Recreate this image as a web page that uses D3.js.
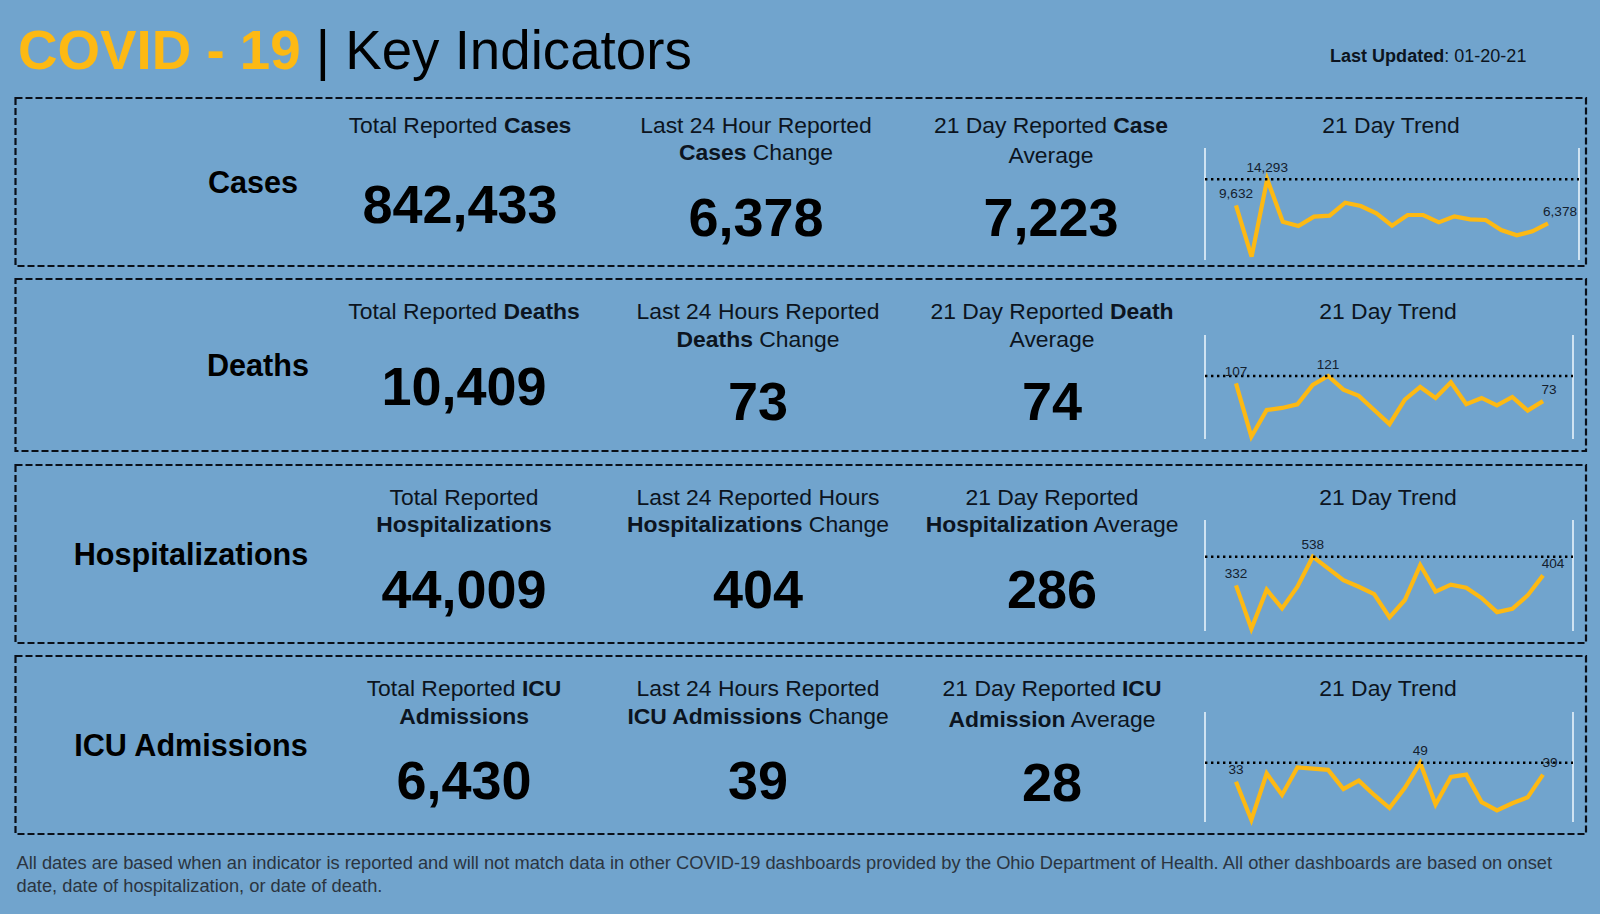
<!DOCTYPE html>
<html>
<head>
	<title>COVID - 19 | Key Indicators</title>
	<script type="text/javascript" src="https://cdnjs.cloudflare.com/ajax/libs/d3/7.8.5/d3.min.js"></script>
	<style>
		html, body { margin: 0; padding: 0; background: #71a4cd; }
		svg { display: block; }
		text { font-family: "Liberation Sans", Arial, sans-serif; }
	</style>
</head>
<body>
<div id='chart'></div>

<script type="text/javascript">

// data

var indicators = ['Cases', 'Deaths', 'Hospitalizations', 'ICU Admissions'];

var totals = [842433, 10409, 44009, 6430];
var changes = [6378, 73, 404, 39];
var averages = [7223, 74, 286, 28];

var cases_trend = [9632, 430, 14293, 6703, 5926, 7600, 7779, 10110, 9512, 8197, 5986, 7899, 7899, 6584, 7660, 7122, 7002, 5210, 4253, 4970, 6378];
var deaths_trend = [107, 5, 56, 60, 67, 104, 121, 95, 83, 56, 29, 76, 100, 79, 109, 67, 79, 65, 81, 55, 73];
var hosp_trend = [332, 21, 301, 167, 322, 538, 454, 370, 322, 270, 102, 227, 478, 287, 337, 315, 241, 140, 164, 260, 404];
var icu_trend = [33, 1, 40, 22, 45, 44, 43, 27, 34, 22, 11, 28, 49, 14, 37, 39, 16, 9, 15, 20, 39];

var trends = [cases_trend, deaths_trend, hosp_trend, icu_trend];

// caption lines, pairs of [text, bold]
var total_captions = [
	[[['Total Reported ', 0], ['Cases', 1]]],
	[[['Total Reported ', 0], ['Deaths', 1]]],
	[[['Total Reported', 0]], [['Hospitalizations', 1]]],
	[[['Total Reported ', 0], ['ICU', 1]], [['Admissions', 1]]]
];
var change_captions = [
	[[['Last 24 Hour Reported', 0]], [['Cases', 1], [' Change', 0]]],
	[[['Last 24 Hours Reported', 0]], [['Deaths', 1], [' Change', 0]]],
	[[['Last 24 Reported Hours', 0]], [['Hospitalizations', 1], [' Change', 0]]],
	[[['Last 24 Hours Reported', 0]], [['ICU Admissions', 1], [' Change', 0]]]
];
var average_captions = [
	[[['21 Day Reported ', 0], ['Case', 1]], [['Average', 0]]],
	[[['21 Day Reported ', 0], ['Death', 1]], [['Average', 0]]],
	[[['21 Day Reported', 0]], [['Hospitalization', 1], [' Average', 0]]],
	[[['21 Day Reported ', 0], ['ICU', 1]], [['Admission', 1], [' Average', 0]]]
];

var footnote = [
	'All dates are based when an indicator is reported and will not match data in other COVID-19 dashboards provided by the Ohio Department of Health. All other dashboards are based on onset',
	'date, date of hospitalization, or date of death.'
];

// layout, one entry per row

var rows = [
	{top: 98, bottom: 266, name_x: 253, name_y: 193, cap_y: 133, cap2: 160, avg2: 162.5, cols: [460, 756, 1051, 1391], total_y: 223, change_y: 235.5, avg_y: 236,
		frame_top: 148, frame_bottom: 260, frame_right: 1579, x_end: 1548, y_min: 256.7, y_max: 179.3, last_dx: 12},
	{top: 279, bottom: 451, name_x: 258, name_y: 376, cap_y: 319, cap2: 347, avg2: 347, cols: [464, 758, 1052, 1388], total_y: 405, change_y: 420, avg_y: 420,
		frame_top: 335, frame_bottom: 439, frame_right: 1573, x_end: 1543, y_min: 436.7, y_max: 376, last_dx: 6},
	{top: 465, bottom: 643, name_x: 191, name_y: 565, cap_y: 504.5, cap2: 532, avg2: 532, cols: [464, 758, 1052, 1388], total_y: 608, change_y: 608, avg_y: 608,
		frame_top: 520, frame_bottom: 631, frame_right: 1573, x_end: 1543, y_min: 628.7, y_max: 556.7, last_dx: 10},
	{top: 656, bottom: 834, name_x: 191, name_y: 756, cap_y: 696, cap2: 724, avg2: 727, cols: [464, 758, 1052, 1388], total_y: 799, change_y: 799, avg_y: 801,
		frame_top: 712, frame_bottom: 822, frame_right: 1573, x_end: 1543, y_min: 820, y_max: 762.7, last_dx: 7}
];

var width = 1600,
	height = 914,
	dark = '#0c1420',
	yellow = '#fdb913';

var svg = d3.select('#chart').append('svg')
	.attr('width', width)
	.attr('height', height);

svg.append('rect')
	.attr('width', width)
	.attr('height', height)
	.style('fill', '#71a4cd');

// header
var title = svg.append('text')
	.attr('x', 18)
	.attr('y', 69)
	.style('font-size', '54.7px');

title.append('tspan')
	.text('COVID - 19')
	.style('font-weight', 'bold')
	.style('fill', yellow);

title.append('tspan')
	.text(' | Key Indicators')
	.style('fill', '#000');

var updated = svg.append('text')
	.attr('x', 1330)
	.attr('y', 62)
	.style('font-size', '18.05px')
	.style('fill', dark);

updated.append('tspan').text('Last Updated').style('font-weight', 'bold');
updated.append('tspan').text(': 01-20-21');

var fmt = d3.format(',');

function draw_caption(x, ys, lines) {
	lines.forEach(function(line, i){
		var t = svg.append('text')
			.attr('x', x)
			.attr('y', ys[i])
			.attr('text-anchor', 'middle')
			.style('font-size', '22.9px')
			.style('fill', dark);

		line.forEach(function(part){
			t.append('tspan')
				.text(part[0])
				.style('font-weight', part[1] ? 'bold' : 'normal');
		});
	});
}

function draw_value(x, y, val) {
	svg.append('text')
		.attr('x', x)
		.attr('y', y)
		.attr('text-anchor', 'middle')
		.style('font-size', '54px')
		.style('font-weight', 'bold')
		.style('fill', '#000')
		.text(fmt(val));
}

function draw_trend(r, vals) {
	var x = d3.scaleLinear().domain([0, vals.length - 1]).range([1236, r.x_end]);
	var y = d3.scaleLinear().domain(d3.extent(vals)).range([r.y_min, r.y_max]);

	var top_val = d3.max(vals);
	var top_idx = vals.indexOf(top_val);

	svg.selectAll(null)
		.data([1205, r.frame_right])
		.enter().append('line')
		.attr('x1', function(d){ return d; })
		.attr('x2', function(d){ return d; })
		.attr('y1', r.frame_top)
		.attr('y2', r.frame_bottom)
		.style('stroke', '#e8f3fb')
		.style('stroke-width', 1.6);

	var line = d3.line()
		.x(function(d, i){ return x(i); })
		.y(function(d){ return y(d); });

	svg.append('path')
		.datum(vals)
		.attr('d', line)
		.style('fill', 'none')
		.style('stroke', yellow)
		.style('stroke-width', 4.2)
		.style('stroke-linejoin', 'miter');

	svg.append('line')
		.attr('x1', 1205)
		.attr('x2', r.frame_right)
		.attr('y1', y(top_val))
		.attr('y2', y(top_val))
		.style('stroke', '#000')
		.style('stroke-width', 2.4)
		.style('stroke-dasharray', '2.4,3.6');

	var last = vals.length - 1;
	[[0, 0], [top_idx, 0], [last, r.last_dx]].forEach(function(p){
		svg.append('text')
			.attr('x', x(p[0]) + p[1])
			.attr('y', y(vals[p[0]]) - 7.5)
			.attr('text-anchor', 'middle')
			.style('font-size', '13.6px')
			.style('fill', '#14202e')
			.text(fmt(vals[p[0]]));
	});
}

rows.forEach(function(r, i){
	svg.append('rect')
		.attr('x', 15.5)
		.attr('y', r.top)
		.attr('width', 1570.5)
		.attr('height', r.bottom - r.top)
		.style('fill', 'none')
		.style('stroke', '#0a0f18')
		.style('stroke-width', 2.2)
		.style('stroke-dasharray', '7,3');

	svg.append('text')
		.attr('x', r.name_x)
		.attr('y', r.name_y)
		.attr('text-anchor', 'middle')
		.style('font-size', '30.6px')
		.style('font-weight', 'bold')
		.style('fill', '#000')
		.text(indicators[i]);

	draw_caption(r.cols[0], [r.cap_y, r.cap2], total_captions[i]);
	draw_caption(r.cols[1], [r.cap_y, r.cap2], change_captions[i]);
	draw_caption(r.cols[2], [r.cap_y, r.avg2], average_captions[i]);
	draw_caption(r.cols[3], [r.cap_y], [[['21 Day Trend', 0]]]);

	draw_value(r.cols[0], r.total_y, totals[i]);
	draw_value(r.cols[1], r.change_y, changes[i]);
	draw_value(r.cols[2], r.avg_y, averages[i]);

	draw_trend(r, trends[i]);
});

svg.selectAll('.foot').data(footnote)
	.enter().append('text').classed('foot', true)
	.attr('x', 16.5)
	.attr('y', function(d, i){ return 869 + i*22.5; })
	.style('font-size', '18.3px')
	.style('fill', '#2b3440')
	.text(function(d){ return d; });

</script>

</body>
</html>
